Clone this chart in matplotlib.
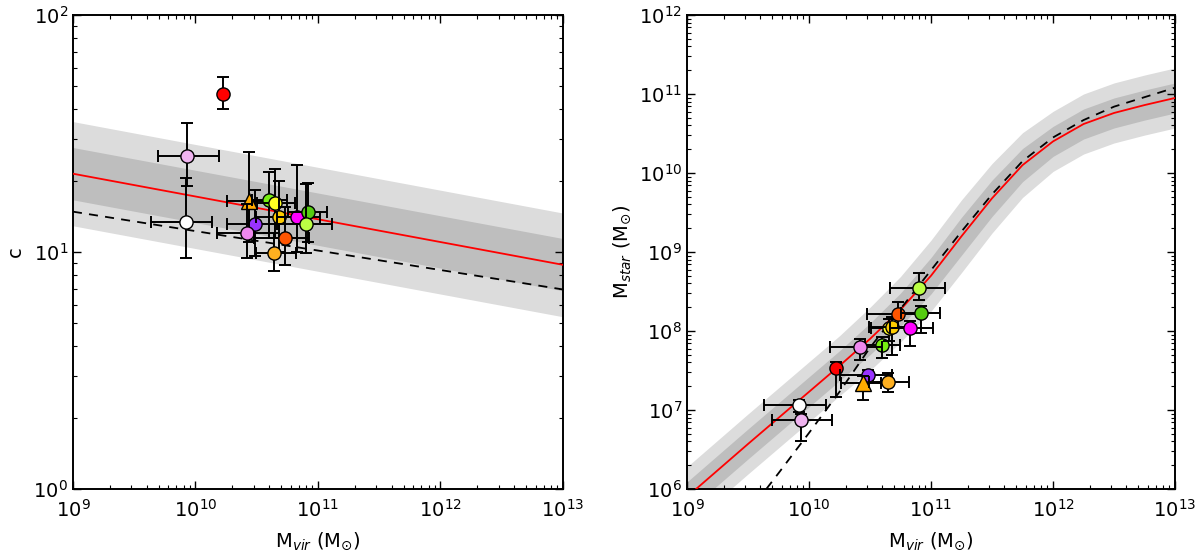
import matplotlib
matplotlib.use("Agg")
import matplotlib.pyplot as plt
import numpy as np

# ---- galaxy sample (same order in both panels) ---------------------------
colors = ["#FF0000", "#F0B4F0", "#FFFFFF", "#9933FF", "#FFAA00", "#77EE11", "#FFFF22",
          "#FFCC00", "#EE88EE", "#FF5500", "#FFB020", "#FF00FF", "#55CC11", "#BBFF44"]
markers = ["o", "o", "o", "o", "^", "o", "o", "o", "o", "o", "o", "o", "o", "o"]

mvir = [1.68e10, 8.6e9, 8.35e9, 3.05e10, 2.76e10, 4.0e10, 4.5e10,
        4.78e10, 2.63e10, 5.4e10, 4.4e10, 6.7e10, 8.25e10, 7.95e10]
mvir_lo = [1.68e10, 4.95e9, 4.3e9, 1.8e10, 1.82e10, 2.9e10, 3.2e10,
           3.1e10, 1.5e10, 3.0e10, 3.1e10, 4.6e10, 5.7e10, 4.6e10]
mvir_hi = [1.68e10, 1.55e10, 1.37e10, 4.8e10, 3.9e10, 5.6e10, 6.5e10,
           7.0e10, 4.0e10, 8.5e10, 6.6e10, 1.04e11, 1.19e11, 1.31e11]

conc = [46.4, 25.5, 13.4, 13.1, 16.4, 16.5, 16.1, 14.0, 12.0, 11.5, 9.9, 14.0, 14.7, 13.1]
conc_lo = [40.0, 19.0, 9.4, 9.6, 11.0, 12.0, 11.5, 10.0, 9.4, 8.8, 8.3, 10.0, 11.0, 9.9]
conc_hi = [54.6, 34.9, 20.5, 18.2, 26.4, 21.8, 22.3, 20.0, 16.0, 15.5, 12.0, 23.3, 19.6, 19.4]

mstar = [3.4e7, 7.5e6, 1.15e7, 2.75e7, 2.18e7, 6.6e7, 1.08e8,
         1.13e8, 6.2e7, 1.64e8, 2.28e7, 1.08e8, 1.71e8, 3.5e8]
mstar_lo = [1.47e7, 4.0e6, 9.5e6, 2.4e7, 1.34e7, 4.6e7, 7.5e7,
            5.0e7, 4.3e7, 1.1e8, 1.71e7, 6.5e7, 9.4e7, 2.5e8]
mstar_hi = [4.0e7, 9.0e6, 1.35e7, 3.2e7, 2.7e7, 8.5e7, 1.4e8,
            1.5e8, 8.0e7, 2.3e8, 2.9e7, 1.35e8, 2.1e8, 5.4e8]

# ---- c-M relations (straight lines in log-log) ---------------------------
cm_mass = [1e9, 1e13]
cm_red = [21.4, 8.83]
cm_red_1lo = [16.6, 6.86]
cm_red_1hi = [27.6, 11.4]
cm_red_2lo = [12.9, 5.33]
cm_red_2hi = [35.5, 14.6]
cm_dash = [14.8, 6.95]

# ---- stellar-halo mass relations (log10 values) --------------------------
smhm_logm = [9.0, 9.5, 10.0, 10.25, 10.5, 10.75, 11.0, 11.25, 11.5, 11.75,
             12.0, 12.25, 12.5, 12.75, 13.0]
smhm_red = [5.90, 6.57, 7.23, 7.56, 7.90, 8.27, 8.70, 9.20, 9.68, 10.10,
            10.40, 10.62, 10.76, 10.86, 10.95]
smhm_1lo = [5.71, 6.38, 7.04, 7.37, 7.70, 8.06, 8.47, 8.96, 9.45, 9.89,
            10.21, 10.43, 10.57, 10.67, 10.76]
smhm_1hi = [6.09, 6.76, 7.42, 7.75, 8.10, 8.48, 8.93, 9.44, 9.91, 10.31,
            10.59, 10.81, 10.95, 11.05, 11.14]
smhm_2lo = [5.52, 6.19, 6.85, 7.18, 7.50, 7.86, 8.25, 8.74, 9.24, 9.69,
            10.02, 10.24, 10.38, 10.48, 10.57]
smhm_2hi = [6.28, 6.95, 7.61, 7.94, 8.30, 8.69, 9.15, 9.66, 10.12, 10.51,
            10.78, 11.00, 11.14, 11.24, 11.33]

dash_logm = [9.65, 9.75, 10.0, 10.25, 10.5, 10.75, 11.0, 11.25, 11.5, 11.75,
             12.0, 12.25, 12.5, 12.75, 13.0]
dash_logms = [6.00, 6.20, 6.71, 7.23, 7.79, 8.28, 8.77, 9.26, 9.73, 10.15,
              10.45, 10.67, 10.84, 10.96, 11.08]

LIGHT = "#DCDCDC"
DARK = "#BEBEBE"


def style_axes(ax):
    ax.set_xscale("log")
    ax.set_yscale("log")
    ax.tick_params(which="both", direction="in", top=True, right=True, labelsize=14)
    ax.tick_params(which="major", length=6, width=1)
    ax.tick_params(which="minor", length=3, width=0.8)
    ax.tick_params(axis="x", pad=7)
    for sp in ax.spines.values():
        sp.set_linewidth(1.4)


def draw_points(ax, yv, ylo, yhi):
    for i in range(len(mvir)):
        xe = [[mvir[i] - mvir_lo[i]], [mvir_hi[i] - mvir[i]]]
        ye = [[yv[i] - ylo[i]], [yhi[i] - yv[i]]]
        ax.errorbar(mvir[i], yv[i], xerr=xe, yerr=ye, fmt="none", ecolor="black",
                    elinewidth=1.4, capsize=4, capthick=1.4, zorder=5 + i * 0.01)
        ms = 11 if markers[i] == "^" else 9.5
        ax.plot(mvir[i], yv[i], marker=markers[i], ms=ms, mfc=colors[i], mec="black",
                mew=1.0, ls="none", zorder=5.005 + i * 0.01)


fig = plt.figure(figsize=(12, 5.56), dpi=100)
fig.patch.set_facecolor("white")

# ---- left: concentration vs virial mass ----------------------------------
ax1 = fig.add_axes([0.0608, 0.1205, 0.4083, 0.8525])
style_axes(ax1)
ax1.fill_between(cm_mass, cm_red_2lo, cm_red_2hi, color=LIGHT, lw=0, zorder=1)
ax1.fill_between(cm_mass, cm_red_1lo, cm_red_1hi, color=DARK, lw=0, zorder=1.5)
ax1.plot(cm_mass, cm_red, color="red", lw=1.3, zorder=3)
ax1.plot(cm_mass, cm_dash, color="black", lw=1.3, ls=(0, (5, 4)), zorder=3)
draw_points(ax1, conc, conc_lo, conc_hi)
ax1.set_xlim(1e9, 1e13)
ax1.set_ylim(1, 100)
ax1.set_xlabel(r"M$_{vir}$ (M$_{\odot}$)", fontsize=14, labelpad=7)
ax1.set_ylabel("c", fontsize=14, labelpad=6)

# ---- right: stellar mass vs virial mass ----------------------------------
ax2 = fig.add_axes([0.5725, 0.1205, 0.4067, 0.8525])
style_axes(ax2)
sm_m = np.power(10.0, smhm_logm)
ax2.fill_between(sm_m, np.power(10.0, smhm_2lo), np.power(10.0, smhm_2hi),
                 color=LIGHT, lw=0, zorder=1)
ax2.fill_between(sm_m, np.power(10.0, smhm_1lo), np.power(10.0, smhm_1hi),
                 color=DARK, lw=0, zorder=1.5)
ax2.plot(sm_m, np.power(10.0, smhm_red), color="red", lw=1.3, zorder=3)
ax2.plot(np.power(10.0, dash_logm), np.power(10.0, dash_logms), color="black",
         lw=1.3, ls=(0, (5, 4)), zorder=3)
draw_points(ax2, mstar, mstar_lo, mstar_hi)
ax2.set_xlim(1e9, 1e13)
ax2.set_ylim(1e6, 1e12)
ax2.set_xlabel(r"M$_{vir}$ (M$_{\odot}$)", fontsize=14, labelpad=7)
ax2.set_ylabel(r"M$_{star}$ (M$_{\odot}$)", fontsize=14, labelpad=4)

fig.savefig("out.png", dpi=100, facecolor="white")
